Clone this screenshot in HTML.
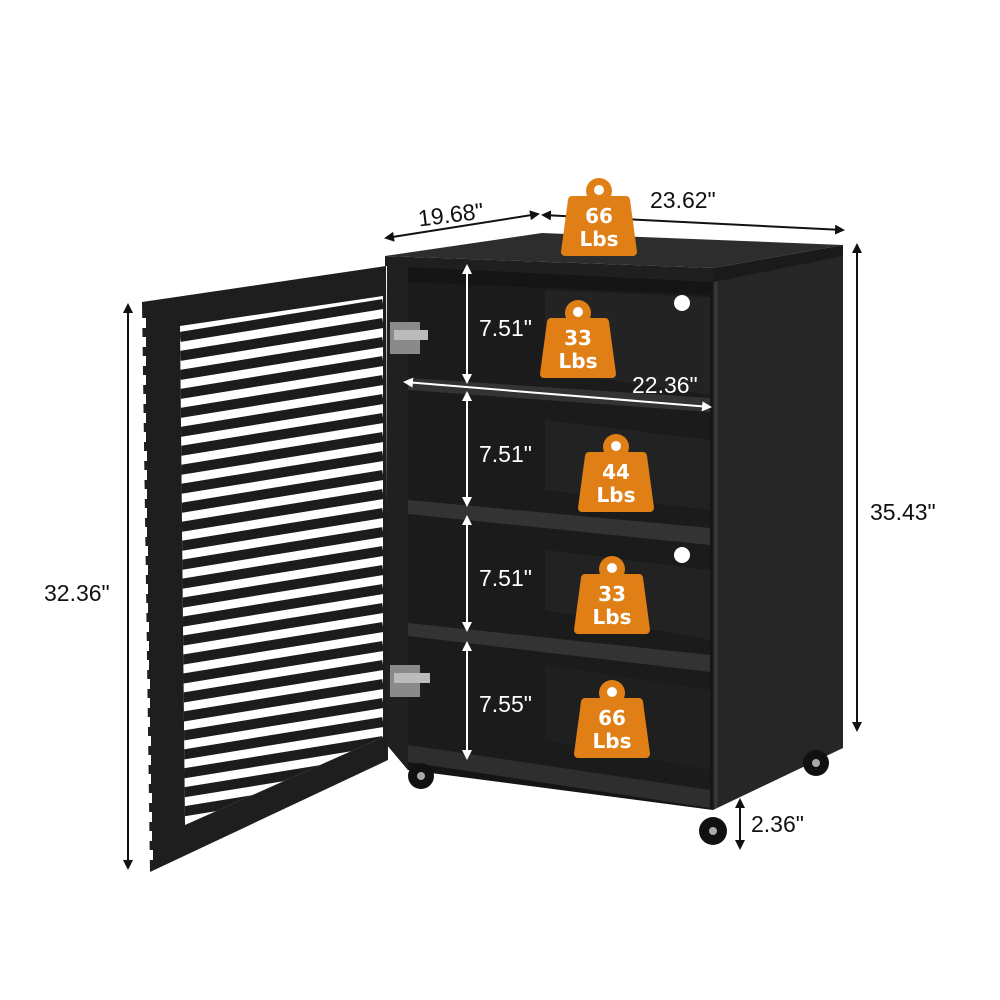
<!DOCTYPE html>
<html><head><meta charset="utf-8"><style>
html,body{margin:0;padding:0;background:#fff;width:1000px;height:1000px;overflow:hidden}
svg{display:block}
.d{font-family:"Liberation Sans",sans-serif;font-size:23px;fill:#111}
.w{font-family:"Liberation Sans",sans-serif;font-size:23px;fill:#fff}
.wt{font-family:"DejaVu Sans","Liberation Sans",sans-serif;font-weight:bold;font-size:20px;fill:#fff;text-anchor:middle}
</style></head><body>
<svg width="1000" height="1000" viewBox="0 0 1000 1000">
<defs>
<marker id="ab" markerWidth="10" markerHeight="10" refX="8" refY="5" orient="auto-start-reverse" markerUnits="userSpaceOnUse"><path d="M0,0 L10,5 L0,10 Z" fill="#111"/></marker>
<marker id="aw" markerWidth="10" markerHeight="10" refX="8" refY="5" orient="auto-start-reverse" markerUnits="userSpaceOnUse"><path d="M0,0 L10,5 L0,10 Z" fill="#fff"/></marker>
<clipPath id="dc"><polygon points="180,326 383,296 383,737 185,825"/></clipPath>
<g id="wt">
<circle cx="0" cy="13" r="13" fill="#E17F17"/>
<circle cx="0" cy="12" r="5" fill="#fff"/>
<path d="M-27,22 L27,22 L34,74 L-34,74 Z" fill="#E17F17" stroke="#E17F17" stroke-width="8" stroke-linejoin="round"/>
</g>
</defs>

<!-- door -->
<polygon points="142,302 386,266 388,760 150,872" fill="#1e1e1e"/>
<polygon points="180,326 383,296 383,737 185,825" fill="#fff"/>
<g stroke="#1c1c1c" stroke-width="10" clip-path="url(#dc)">
<line x1="180" y1="337" x2="383" y2="304"/>
<line x1="180" y1="356" x2="383" y2="323"/>
<line x1="180" y1="375" x2="383" y2="342"/>
<line x1="180" y1="394" x2="383" y2="361"/>
<line x1="180" y1="413" x2="383" y2="380"/>
<line x1="180" y1="432" x2="383" y2="399"/>
<line x1="180" y1="451" x2="383" y2="418"/>
<line x1="180" y1="470" x2="383" y2="437"/>
<line x1="180" y1="489" x2="383" y2="456"/>
<line x1="180" y1="508" x2="383" y2="475"/>
<line x1="180" y1="527" x2="383" y2="494"/>
<line x1="180" y1="546" x2="383" y2="513"/>
<line x1="180" y1="565" x2="383" y2="532"/>
<line x1="180" y1="584" x2="383" y2="551"/>
<line x1="180" y1="603" x2="383" y2="570"/>
<line x1="180" y1="622" x2="383" y2="589"/>
<line x1="180" y1="641" x2="383" y2="608"/>
<line x1="180" y1="660" x2="383" y2="627"/>
<line x1="180" y1="679" x2="383" y2="646"/>
<line x1="180" y1="698" x2="383" y2="665"/>
<line x1="180" y1="717" x2="383" y2="684"/>
<line x1="180" y1="736" x2="383" y2="703"/>
<line x1="180" y1="755" x2="383" y2="722"/>
<line x1="180" y1="774" x2="383" y2="741"/>
<line x1="180" y1="793" x2="383" y2="760"/>
<line x1="180" y1="812" x2="383" y2="779"/>
<line x1="180" y1="831" x2="383" y2="798"/>
</g>
<g fill="#fff">
<rect x="140" y="318" width="6" height="10"/><rect x="140" y="337" width="6" height="10"/><rect x="140" y="356" width="6" height="10"/><rect x="140" y="375" width="6" height="10"/><rect x="140" y="394" width="6" height="10"/><rect x="140" y="413" width="6" height="10"/><rect x="140" y="432" width="6" height="10"/><rect x="141" y="451" width="6" height="10"/><rect x="141" y="470" width="6" height="10"/><rect x="141" y="489" width="6" height="10"/><rect x="141" y="508" width="6" height="10"/><rect x="141" y="527" width="6" height="10"/><rect x="142" y="546" width="6" height="10"/><rect x="142" y="565" width="6" height="10"/><rect x="142" y="584" width="6" height="10"/><rect x="142" y="603" width="6" height="10"/><rect x="143" y="622" width="6" height="10"/><rect x="143" y="641" width="6" height="10"/><rect x="143" y="660" width="6" height="10"/><rect x="144" y="679" width="6" height="10"/><rect x="144" y="698" width="6" height="10"/><rect x="144" y="717" width="6" height="10"/><rect x="145" y="736" width="6" height="10"/><rect x="145" y="755" width="6" height="10"/><rect x="145" y="774" width="6" height="10"/><rect x="146" y="793" width="6" height="10"/><rect x="146" y="812" width="6" height="10"/><rect x="146" y="831" width="6" height="10"/><rect x="147" y="850" width="6" height="10"/>
</g>

<polygon points="713,276 843,246 843,748 713,810" fill="#262626"/>
<line x1="716" y1="278" x2="716" y2="808" stroke="#3a3a3a" stroke-width="3"/>
<polygon points="387,262 713,278 713,810 408,770 387,745" fill="#151515"/>
<polygon points="408,282 710,295 710,800 408,757" fill="#1b1b1b"/>
<polygon points="545,290 710,297 710,395 545,370" fill="#232323"/>
<polygon points="545,420 710,440 710,510 545,490" fill="#222"/>
<polygon points="545,550 710,570 710,640 545,610" fill="#222"/>
<polygon points="545,665 710,690 710,770 545,740" fill="#1f1f1f"/>
<polygon points="387,262 408,266 408,770 387,745" fill="#202020"/>
<polygon points="408,378 710,398 710,412 408,390" fill="#333"/>
<polygon points="408,500 710,528 710,545 408,514" fill="#333"/>
<polygon points="408,623 710,655 710,672 408,636" fill="#333"/>
<polygon points="408,745 710,790 710,808 408,762" fill="#2e2e2e"/>
<polygon points="385,256 542,233 843,245 713,268" fill="#2d2d2d"/>
<polygon points="385,256 713,268 713,282 385,266" fill="#1f1f1f"/>
<polygon points="713,268 843,245 843,256 713,282" fill="#1a1a1a"/>
<circle cx="682" cy="303" r="8" fill="#fff"/>
<circle cx="682" cy="555" r="8" fill="#fff"/>
<rect x="390" y="322" width="30" height="32" fill="#8a8a8a"/><rect x="394" y="330" width="34" height="10" fill="#bbb"/>
<rect x="390" y="665" width="30" height="32" fill="#8a8a8a"/><rect x="394" y="673" width="36" height="10" fill="#bbb"/>
<g fill="#111"><circle cx="421" cy="776" r="13"/><circle cx="713" cy="831" r="14"/><circle cx="816" cy="763" r="13"/></g>
<g fill="#aaa"><circle cx="421" cy="776" r="4"/><circle cx="713" cy="831" r="4"/><circle cx="816" cy="763" r="4"/></g>

<g stroke="#111" stroke-width="2" fill="none">
<line x1="386" y1="238" x2="538" y2="214" marker-start="url(#ab)" marker-end="url(#ab)"/>
<line x1="543" y1="215" x2="843" y2="230" marker-start="url(#ab)" marker-end="url(#ab)"/>
<line x1="857" y1="245" x2="857" y2="730" marker-start="url(#ab)" marker-end="url(#ab)"/>
<line x1="128" y1="305" x2="128" y2="868" marker-start="url(#ab)" marker-end="url(#ab)"/>
<line x1="740" y1="800" x2="740" y2="848" marker-start="url(#ab)" marker-end="url(#ab)"/>
</g>
<g stroke="#fff" stroke-width="2" fill="none">
<line x1="467" y1="266" x2="467" y2="382" marker-start="url(#aw)" marker-end="url(#aw)"/>
<line x1="467" y1="393" x2="467" y2="505" marker-start="url(#aw)" marker-end="url(#aw)"/>
<line x1="467" y1="517" x2="467" y2="630" marker-start="url(#aw)" marker-end="url(#aw)"/>
<line x1="467" y1="643" x2="467" y2="758" marker-start="url(#aw)" marker-end="url(#aw)"/>
<line x1="405" y1="382" x2="710" y2="407" marker-start="url(#aw)" marker-end="url(#aw)"/>
</g>
<text class="d" x="418" y="222" transform="rotate(-7 455 215)">19.68"</text>
<text class="d" x="650" y="208">23.62"</text>
<text class="d" x="870" y="520">35.43"</text>
<text class="d" x="44" y="601">32.36"</text>
<text class="d" x="751" y="832">2.36"</text>
<text class="w" x="479" y="336">7.51"</text>
<text class="w" x="479" y="462">7.51"</text>
<text class="w" x="479" y="586">7.51"</text>
<text class="w" x="479" y="712">7.55"</text>
<text class="w" x="632" y="393">22.36"</text>

<use href="#wt" x="599" y="178"/>
<text class="wt" x="599" y="223">66</text><text class="wt" x="599" y="246">Lbs</text>
<use href="#wt" x="578" y="300"/>
<text class="wt" x="578" y="345">33</text><text class="wt" x="578" y="368">Lbs</text>
<use href="#wt" x="616" y="434"/>
<text class="wt" x="616" y="479">44</text><text class="wt" x="616" y="502">Lbs</text>
<use href="#wt" x="612" y="556"/>
<text class="wt" x="612" y="601">33</text><text class="wt" x="612" y="624">Lbs</text>
<use href="#wt" x="612" y="680"/>
<text class="wt" x="612" y="725">66</text><text class="wt" x="612" y="748">Lbs</text>
</svg>
</body></html>
